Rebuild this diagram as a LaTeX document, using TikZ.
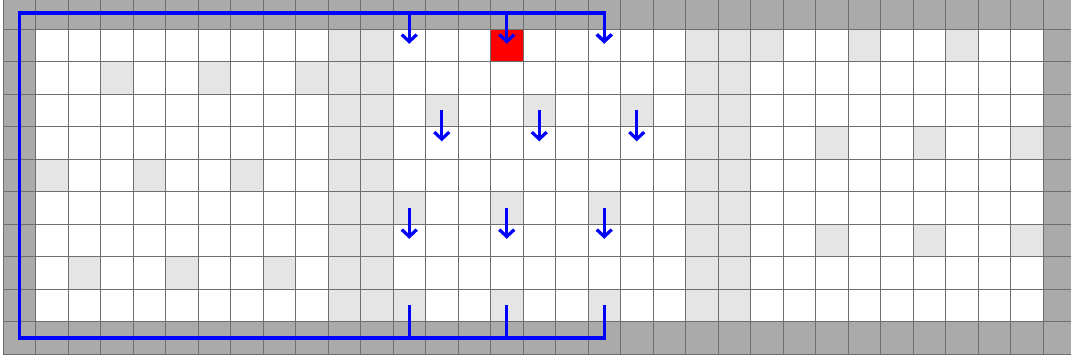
\documentclass[tikz,border=0pt]{standalone}
\usetikzlibrary{arrows.meta}
\definecolor{wallgray}{HTML}{AAAAAA}
\definecolor{obst}{HTML}{E5E5E5}
\definecolor{gridc}{HTML}{6E6E6E}
\definecolor{pathblue}{HTML}{0000FF}
\definecolor{goalred}{HTML}{FF0000}
\begin{document}
\begin{tikzpicture}[x=1pt,y=-1pt,
  gridline/.style={draw=gridc, line width=1pt},
  bluepath/.style={draw=pathblue, line width=3.5pt, line join=miter},
  flowarrow/.style={draw=pathblue, line width=3.2pt, -{Straight Barb[length=7pt,width=15pt]}, shorten >=1.5pt},
  backarrow/.style={draw=pathblue, line width=3.2pt, {Straight Barb[length=7pt,width=15pt]}-, shorten <=1.5pt},
  tickline/.style={draw=pathblue, line width=3.2pt}]
\useasboundingbox (0,0) rectangle (1071,360);
\clip (0,0) rectangle (1071,360);
\fill[white] (0,0) rectangle (1071,360);
% cells
\fill[white] (3,-3.5) rectangle (1075.5,354);
\foreach \i/\j in {10/1,11/1,21/1,22/1,23/1,26/1,29/1,
                   3/2,6/2,9/2,10/2,11/2,21/2,22/2,
                   10/3,11/3,13/3,16/3,19/3,21/3,22/3,
                   10/4,11/4,21/4,22/4,25/4,28/4,31/4,
                   1/5,4/5,7/5,10/5,11/5,21/5,22/5,
                   10/6,11/6,12/6,15/6,18/6,21/6,22/6,
                   10/7,11/7,21/7,22/7,25/7,28/7,31/7,
                   2/8,5/8,8/8,10/8,11/8,21/8,22/8,
                   10/9,11/9,12/9,15/9,18/9,21/9,22/9}
  \fill[obst] ({3+32.5*\i},{-3.5+32.5*\j}) rectangle ++(32.5,32.5);
\fill[goalred] ({3+32.5*15},{-3.5+32.5*1}) rectangle ++(32.5,32.5);
% walls
\fill[wallgray] (3,-3.5) rectangle (1075.5,29);
\fill[wallgray] (3,321.5) rectangle (1075.5,354);
\fill[wallgray] (3,-3.5) rectangle (35.5,354);
\fill[wallgray] (1043,-3.5) rectangle (1075.5,354);
% grid
\foreach \i in {0,...,32}
  \draw[gridline] ({3+32.5*\i},-3.5) -- ({3+32.5*\i},354);
\foreach \j in {1,...,11}
  \draw[gridline] (3,{-3.5+32.5*\j}) -- (1075.5,{-3.5+32.5*\j});
% cell centres
\foreach \i in {0,...,32}
  \foreach \j in {0,...,10}
    \coordinate (c-\i-\j) at ({19.25+32.5*\i},{12.75+32.5*\j});
% path
\draw[bluepath, backarrow, line width=3.5pt] (c-18-1) -- (c-18-0) -- (c-0-0) -- (c-0-10) -- (c-18-10) -- (c-18-9);
\draw[flowarrow] (c-12-0) -- (c-12-1);
\draw[flowarrow] (c-15-0) -- (c-15-1);
\draw[tickline] (c-12-10) -- (c-12-9);
\draw[tickline] (c-15-10) -- (c-15-9);
\foreach \i in {13,16,19}
  \draw[flowarrow] (c-\i-3) -- (c-\i-4);
\foreach \i in {12,15,18}
  \draw[flowarrow] (c-\i-6) -- (c-\i-7);
\end{tikzpicture}
\end{document}
